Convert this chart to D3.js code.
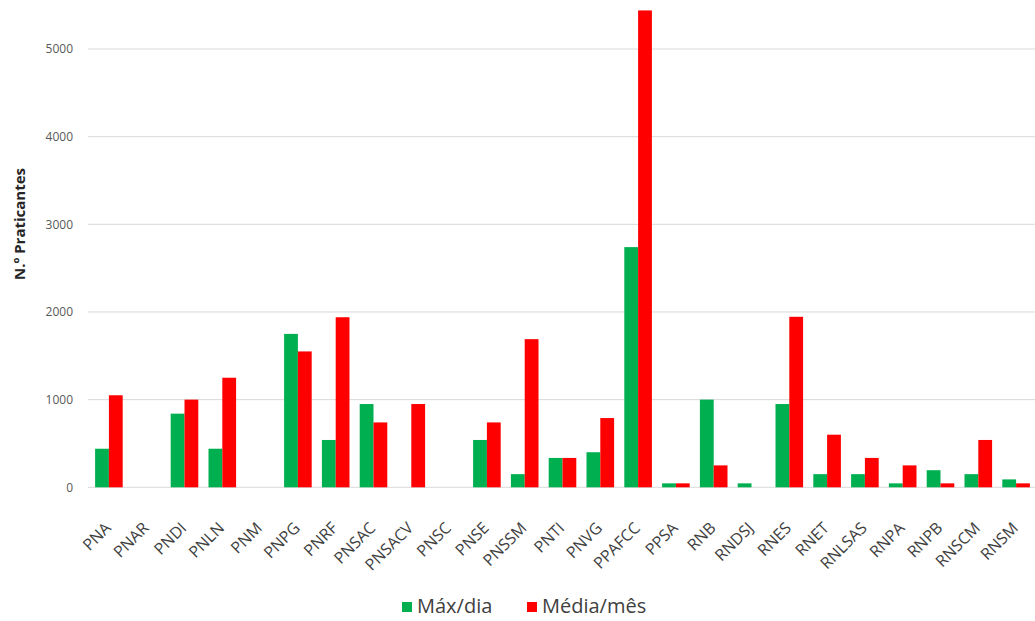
<!DOCTYPE html>
<html>
<head>
<meta charset="utf-8">
<script src="https://cdn.jsdelivr.net/npm/d3@7"></script>
<style>
  html, body { margin: 0; padding: 0; background: #fff; }
  svg { display: block; font-family: "Open Sans", "Noto Sans", sans-serif; }
</style>
</head>
<body>
<svg id="chart" width="1035" height="621"></svg>
<script>
const categories = ["PNA","PNAR","PNDI","PNLN","PNM","PNPG","PNRF","PNSAC","PNSACV","PNSC","PNSE","PNSSM","PNTI","PNVG","PPAFCC","PPSA","RNB","RNDSJ","RNES","RNET","RNLSAS","RNPA","RNPB","RNSCM","RNSM"];
const maxDia =   [440, 0, 840, 440, 0, 1750, 540, 950, 0, 0, 540, 150, 335, 400, 2740, 45, 1000, 45, 950, 150, 150, 45, 195, 150, 90];
const mediaMes = [1050, 0, 1000, 1250, 0, 1550, 1940, 740, 950, 0, 740, 1690, 335, 790, 5440, 45, 250, 0, 1945, 600, 335, 250, 45, 540, 45];
const seriesNames = ["Máx/dia", "Média/mês"];
const seriesColors = ["#00b050", "#ff0000"];
const yTicks = [0, 1000, 2000, 3000, 4000, 5000];
const yTitle = "N.º Praticantes";

const svg = d3.select("#chart");
const mLeft = 90, mRight = 1035, mTop = 49, mBottom = 487.3;

const x = d3.scaleBand().domain(categories).range([mLeft, mRight]).paddingInner(0.27).paddingOuter(0.135);
const xs = d3.scaleBand().domain(seriesNames).range([0, x.bandwidth()]);
const y = d3.scaleLinear().domain([0, 5000]).range([mBottom, mTop]);

// gridlines
svg.append("g").selectAll("line").data(yTicks).join("line")
  .attr("x1", mLeft - 2).attr("x2", mRight)
  .attr("y1", d => y(d)).attr("y2", d => y(d))
  .attr("stroke", "#d9d9d9").attr("stroke-width", 1);

// y tick labels
svg.append("g").selectAll("text").data(yTicks).join("text")
  .attr("x", 73).attr("y", d => y(d)).attr("dy", "0.35em")
  .attr("text-anchor", "end").attr("font-size", 12).attr("fill", "#595959")
  .text(d => d);

// y title
svg.append("text")
  .attr("transform", `translate(25, 224) rotate(-90)`)
  .attr("text-anchor", "middle").attr("font-size", 15).attr("font-weight", "bold")
  .attr("fill", "#262626").text(yTitle);

// bars
const rows = categories.map((c, i) => ({ c, vals: [maxDia[i], mediaMes[i]] }));
const grp = svg.append("g").selectAll("g").data(rows).join("g")
  .attr("transform", d => `translate(${x(d.c)},0)`);
grp.selectAll("rect").data(d => d.vals.map((v, k) => ({ v, k }))).join("rect")
  .attr("x", d => xs(seriesNames[d.k]))
  .attr("width", xs.bandwidth())
  .attr("y", d => y(d.v))
  .attr("height", d => y(0) - y(d.v))
  .attr("fill", d => seriesColors[d.k]);

// x labels
svg.append("g").selectAll("text").data(categories).join("text")
  .attr("transform", d => `translate(${x(d) + x.bandwidth() / 2 + 3}, 529) rotate(-45)`)
  .attr("text-anchor", "end").attr("font-size", 16).attr("fill", "#404040")
  .text(d => d);

// legend
const lg = svg.append("g");
const legendItems = [{ name: seriesNames[0], color: seriesColors[0], x: 402 }, { name: seriesNames[1], color: seriesColors[1], x: 527 }];
legendItems.forEach(it => {
  lg.append("rect").attr("x", it.x).attr("y", 602).attr("width", 10).attr("height", 10).attr("fill", it.color);
  lg.append("text").attr("x", it.x + 15).attr("y", 613).attr("font-size", 20).attr("fill", "#404040").text(it.name);
});
</script>
</body>
</html>
